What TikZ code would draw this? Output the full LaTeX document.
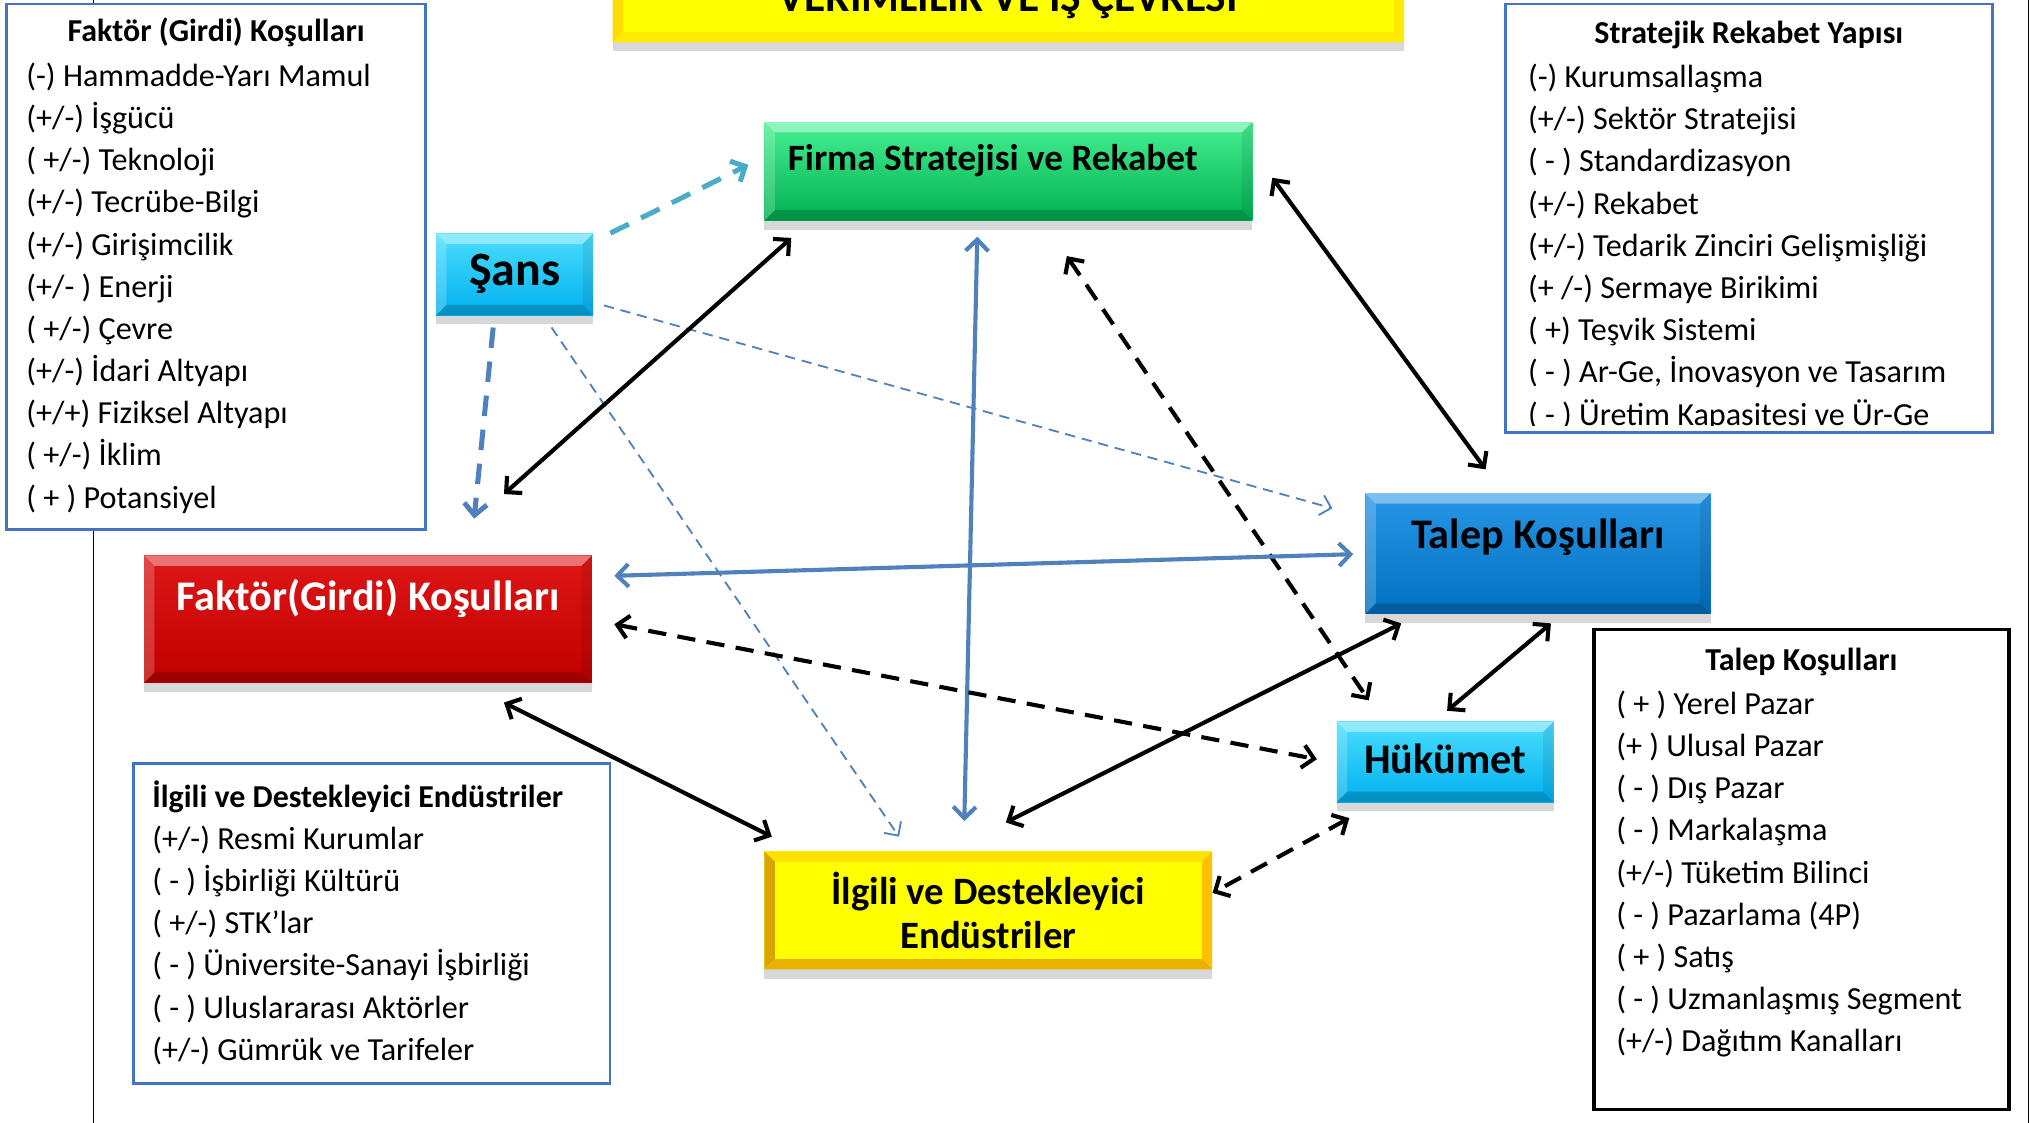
\documentclass[tikz,border=0pt]{standalone}
\usepackage{fontspec}
\setmainfont{Carlito}
\usepackage{tikz}
\usetikzlibrary{positioning}
\usetikzlibrary{arrows.meta}
\usetikzlibrary{calc, shadows}
\definecolor{ColorG}{RGB}{0,176,80}
\definecolor{ColorGtop}{RGB}{70,240,145}
\definecolor{ColorC}{RGB}{0,176,240}
\definecolor{ColorCtop}{RGB}{75,222,252}
\definecolor{ColorB}{RGB}{0,112,192}
\definecolor{ColorBtop}{RGB}{40,150,230}
\definecolor{ColorR}{RGB}{192,0,0}
\definecolor{ColorRtop}{RGB}{222,22,22}
\definecolor{ColorY}{RGB}{255,255,0}
\definecolor{ColorGold}{RGB}{255,192,0}
\definecolor{ColorLine}{RGB}{79,129,189}
\definecolor{ColorTeal}{RGB}{75,172,198}
\definecolor{ColorFrame}{RGB}{68,114,196}

\begin{document}
\begin{tikzpicture}[x=0.02cm, y=-0.02cm,
	factor/.style={rectangle, inner sep=0pt, font=\fontsize{18.5}{22}\selectfont\bfseries,
		drop shadow={opacity=0.3, shadow xshift=0pt, shadow yshift=-4pt}},
	bevel/.style n args={4}{path picture={
		\coordinate (bsw) at (path picture bounding box.south west);
		\coordinate (bne) at (path picture bounding box.north east);
		\coordinate (bnw) at (bsw |- bne);
		\coordinate (bse) at (bne |- bsw);
		\fill[#1] (bnw) -- (bne) -- ($(bne)+(-8,8)$) -- ($(bnw)+(8,8)$) -- cycle;
		\fill[#2] (bnw) -- (bsw) -- ($(bsw)+(8,-8)$) -- ($(bnw)+(8,8)$) -- cycle;
		\fill[#3] (bne) -- (bse) -- ($(bse)+(-8,-8)$) -- ($(bne)+(-8,8)$) -- cycle;
		\fill[#4] (bsw) -- (bse) -- ($(bse)+(-8,-8)$) -- ($(bsw)+(8,-8)$) -- cycle;}},
	softbevel/.style={bevel={white,opacity=0.4}{white,opacity=0.2}{black,opacity=0.08}{black,opacity=0.18}},
	goldbevel/.style={bevel={ColorGold!45!ColorY}{ColorGold!85!black}{ColorGold}{ColorGold!92!black}},
	G/.style={top color=ColorGtop, bottom color=ColorG, softbevel},
	C/.style={top color=ColorCtop, bottom color=ColorC, softbevel},
	B/.style={top color=ColorBtop, bottom color=ColorB, softbevel},
	R/.style={top color=ColorRtop, bottom color=ColorR, softbevel, text=white},
	Y/.style={fill=ColorY, goldbevel},
	listbox/.style={rectangle, draw=ColorFrame, line width=1.2pt, fill=white},
	listhead/.style={font=\fontsize{14}{18.5}\selectfont\bfseries, inner sep=0pt},
	listitems/.style={align=left, font=\fontsize{14.1}{18.5}\selectfont, inner sep=0pt},
	link/.style={<->, >={Straight Barb[length=5pt,width=10pt]}, line width=1.8pt, draw=black},
	dashlink/.style={link, dash pattern=on 8pt off 5pt},
	bluelink/.style={link, draw=ColorLine},
	chance/.style={->, >={Straight Barb[length=5pt,width=10pt]}, line width=2.2pt, dash pattern=on 9pt off 6pt},
	thinchance/.style={->, >={Straight Barb[length=4.5pt,width=9pt]}, line width=0.8pt, draw=ColorLine, dash pattern=on 4.5pt off 3pt}]

	\path[use as bounding box, fill=white] (0,0) rectangle (1568,865);
	% page frame
	\draw[line width=0.8pt] (72,0) -- (72,865);
	\draw[line width=0.8pt] (1563,0) -- (1563,865);

	% Title
	\node[factor, fill=ColorY, bevel={ColorY!60!white}{ColorGold!55!ColorY}{ColorGold!35!ColorY}{ColorGold!30!ColorY},
		minimum width=12.2cm, minimum height=1.45cm, anchor=south, text height=14pt, text depth=0pt,
		font=\fontsize{19}{22}\selectfont\bfseries] (title) at (777,33) {VERİMLİLİK VE İŞ ÇEVRESİ};

	% Lists
	\node[listbox, minimum width=6.46cm, minimum height=8.1cm] (faktorlist) at (166.5,205.5) {};
	\node[listhead] (faktorhead) at (166.5,25) {Faktör (Girdi) Koşulları};
	\node[listitems, anchor=north west] (faktoritems) at (20,48) {(-) Hammadde-Yarı Mamul\\(+/-) İşgücü\\( +/-) Teknoloji\\(+/-) Tecrübe-Bilgi\\(+/-) Girişimcilik\\(+/- ) Enerji\\( +/-) Çevre\\(+/-) İdari Altyapı\\(+/+) Fiziksel Altyapı\\( +/-) İklim\\( + ) Potansiyel};

	\node[listbox, minimum width=7.5cm, minimum height=6.6cm] (stratlist) at (1347.5,168) {};
	\node[listhead] (strathead) at (1347.5,27) {Stratejik Rekabet Yapısı};
	\begin{scope}
		\clip (stratlist.north west) rectangle ($(stratlist.south east)+(0,-6)$);
		\node[listitems, anchor=north west] (stratitems) at (1177,49) {(-) Kurumsallaşma\\(+/-) Sektör Stratejisi\\( - ) Standardizasyon\\(+/-) Rekabet\\(+/-) Tedarik Zinciri Gelişmişliği\\(+ /-) Sermaye Birikimi\\( +) Teşvik Sistemi\\( - ) Ar-Ge, İnovasyon ve Tasarım\\( - ) Üretim Kapasitesi ve Ür-Ge};
	\end{scope}

	\node[listbox, draw=black, line width=1.5pt, minimum width=6.4cm, minimum height=7.4cm] (taleplist) at (1388,670) {};
	\node[listhead] (talephead) at (1388,510) {Talep Koşulları};
	\node[listitems, anchor=north west] (talepitems) at (1245,532) {( + ) Yerel Pazar\\(+ ) Ulusal Pazar\\( - ) Dış Pazar\\( - ) Markalaşma\\(+/-) Tüketim Bilinci\\( - ) Pazarlama (4P)\\( + ) Satış\\( - ) Uzmanlaşmış Segment\\(+/-) Dağıtım Kanalları};

	\node[listbox, minimum width=7.34cm, minimum height=4.94cm] (ilgililist) at (286.5,711.5) {};
	\node[listhead, anchor=west] (ilgilihead) at (117,614) {İlgili ve Destekleyici Endüstriler};
	\node[listitems, anchor=north west] (ilgiliitems) at (117,636) {(+/-) Resmi Kurumlar\\( - ) İşbirliği Kültürü\\( +/-) STK’lar\\( - ) Üniversite-Sanayi İşbirliği\\( - ) Uluslararası Aktörler\\(+/-) Gümrük ve Tarifeler};

	% Diamond
	\node[factor, G, minimum width=7.52cm, minimum height=1.52cm,
		text height=12pt, text depth=13pt, font=\fontsize{16.3}{19}\selectfont\bfseries] (firma) at (777,132) {\makebox[6.8cm][l]{Firma Stratejisi ve Rekabet}};
	\node[factor, C, minimum width=2.42cm, minimum height=1.26cm, text height=15pt, text depth=5pt,
		font=\fontsize{21}{25}\selectfont\bfseries] (sans) at (396.5,211.5) {Şans};
	\node[factor, R, minimum width=6.9cm, minimum height=1.96cm, text height=14pt, text depth=21.4pt] (faktor) at (283.5,477) {Faktör(Girdi) Koşulları};
	\node[factor, B, minimum width=5.32cm, minimum height=1.86cm, text height=14pt, text depth=18.6pt] (talep) at (1185,426.5) {Talep Koşulları};
	\node[factor, C, minimum width=3.34cm, minimum height=1.24cm, text height=14pt, text depth=4pt] (hukumet) at (1113.5,587) {Hükümet};
	\node[factor, Y, minimum width=6.9cm, minimum height=1.82cm, align=center,
		font=\fontsize{17}{19.5}\selectfont\bfseries] (ilgili) at (761.5,701.5) {İlgili ve Destekleyici\\Endüstriler};

	% Chance
	\draw[chance, draw=ColorTeal] ($(sans.north east)+(13,0)$) -- ($(firma.west)+(-12,-5)$);
	\draw[chance, draw=ColorLine] ($(sans.south)+(-16.5,9)$) -- ($(faktor.north east)+(-91,-28)$);
	\draw[thinchance] ($(sans.south east)+(8,-8)$) -- ($(talep.north west)+(-25,12)$);
	\draw[thinchance] ($(sans.south)+(28.5,9)$) -- ($(ilgili.north west)+(104,-11)$);

	% Links
	\path[link] ($(firma.south west)+(21,13)$) -- ($(faktor.north east)+(-68,-47)$);
	\path[bluelink] ($(firma.south)+(-24,12)$) -- ($(ilgili.north)+(-18.5,-23)$);
	\path[link] ($(firma.east)+(15,5)$) -- ($(talep.north west)+(93,-18)$);
	\path[dashlink] ($(firma.south)+(45,27)$) -- ($(hukumet.north west)+(25,-16)$);
	\path[bluelink] ($(faktor.north east)+(17,16)$) -- ($(talep.west)+(-9,0.5)$);
	\path[dashlink] ($(faktor.east)+(17,4)$) -- ($(hukumet.west)+(-15,-2)$);
	\path[link] ($(faktor.south east)+(-68,15)$) -- ($(ilgili.north west)+(6,-11)$);
	\path[link] ($(talep.south west)+(28,7)$) -- ($(ilgili.north)+(13.5,-22)$);
	\path[link] ($(talep.south)+(10,7)$) -- ($(hukumet.north)+(1.5,-8)$);
	\path[dashlink] ($(hukumet.south west)+(10,12)$) -- ($(ilgili.east)+(0,-13.5)$);
\end{tikzpicture}
\end{document}
